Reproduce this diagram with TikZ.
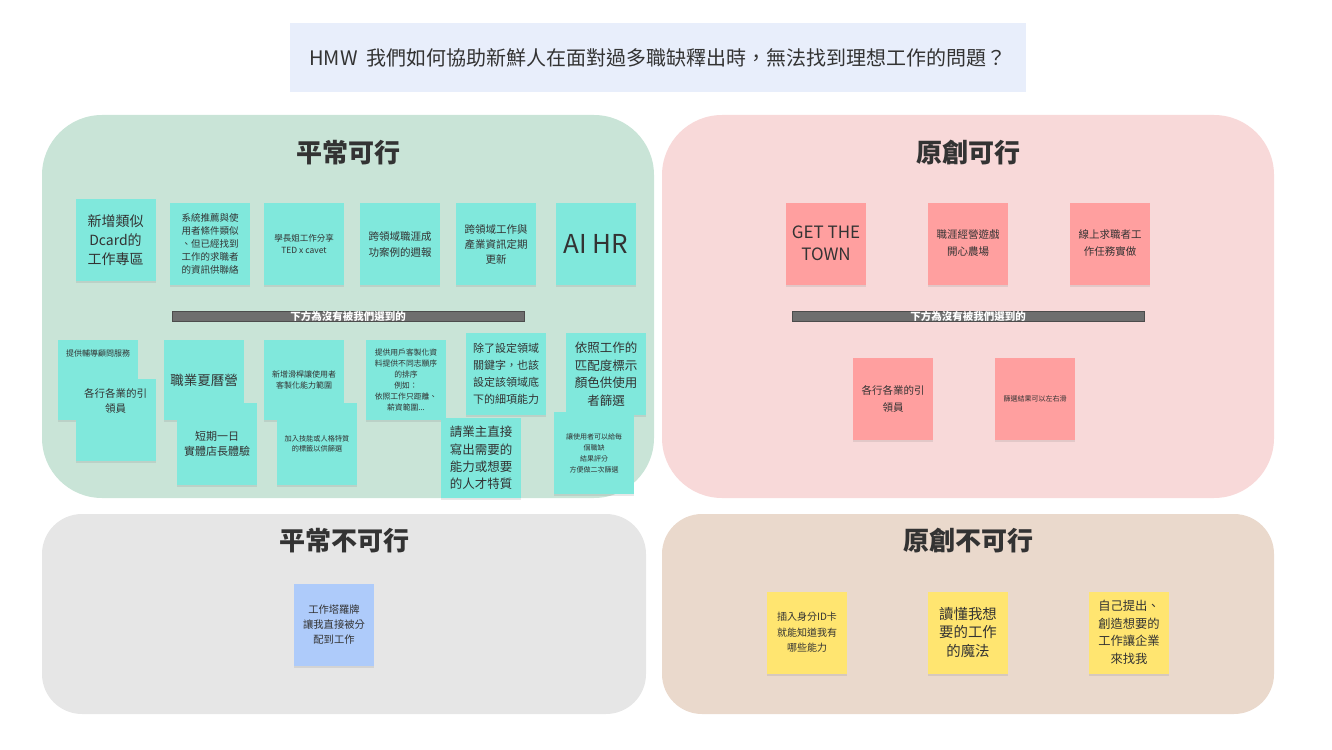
\documentclass[tikz,border=0pt]{standalone}
\usepackage{fontspec}
\setmainfont{Noto Sans CJK TC}
\usepackage{xcolor}
\usetikzlibrary{shadows}
\definecolor{zonegreen}{HTML}{C9E4D7}
\definecolor{zonepink}{HTML}{F8D9D9}
\definecolor{zonegray}{HTML}{E6E6E6}
\definecolor{zonebeige}{HTML}{EAD9CC}
\definecolor{titleblue}{HTML}{E8EEFB}
\definecolor{noteteal}{HTML}{80E8DC}
\definecolor{notepink}{HTML}{FF9F9F}
\definecolor{noteyellow}{HTML}{FFE570}
\definecolor{noteblue}{HTML}{AECBFA}
\definecolor{bargray}{HTML}{6E6E6E}
\definecolor{inkgray}{HTML}{333333}
\newcommand{\pxfont}[2]{\fontsize{#1}{#2}\selectfont}

\begin{document}
\begin{tikzpicture}[
    x=1pt, y=-1pt,
    zone/.style={rounded corners=#1},
    head/.style={font=\pxfont{26}{30}\bfseries, text=inkgray},
    note/.style={minimum width=80pt, minimum height=82pt, inner sep=2pt,
      align=center, text=inkgray,
      drop shadow={shadow xshift=0pt, shadow yshift=-2pt, opacity=0.18}},
    teal/.style={note, fill=noteteal},
    rose/.style={note, fill=notepink},
    lemon/.style={note, fill=noteyellow},
    sky/.style={note, fill=noteblue},
    bar/.style={fill=bargray, draw=black!70, minimum width=352pt,
      minimum height=10pt, inner sep=0pt, text=white,
      font=\pxfont{10.5}{11}\bfseries},
  ]
  \useasboundingbox (0,0) rectangle (1332,749);

  % Title
  \node[fill=titleblue, minimum width=736pt, minimum height=69pt,
    font=\pxfont{20}{23}, text=inkgray] (hmw) at (658,57.5)
    {HMW\ \ 我們如何協助新鮮人在面對過多職缺釋出時，無法找到理想工作的問題？};

  % Quadrants
  \fill[zonegreen, zone=60pt] (42,115) rectangle (654,498);
  \fill[zonepink, zone=60pt] (662,115) rectangle (1274,498);
  \fill[zonegray, zone=40pt] (42,514) rectangle (646,714);
  \fill[zonebeige, zone=40pt] (662,514) rectangle (1274,714);

  \node[head] (hA) at (348,153) {平常可行};
  \node[head] (hB) at (968,153) {原創可行};
  \node[head] (hC) at (344,541) {平常不可行};
  \node[head] (hD) at (968,541) {原創不可行};

  % Top left: chosen
  \node[teal, font=\pxfont{14}{19}] (dcard) at (115.5,240) {新增類似\\Dcard的\\工作專區};
  \node[teal, font=\pxfont{9.5}{13}] (match) at (210,244)
    {系統推薦與使\\用者條件類似\\、但已經找到\\工作的求職者\\的資訊供聯絡};
  \node[teal, font=\pxfont{8.5}{12}] (share) at (304,244) {學長姐工作分享\\TED x cavet};
  \node[teal, font=\pxfont{10.5}{16}] (weekly) at (400,244) {跨領域職涯成\\功案例的週報};
  \node[teal, font=\pxfont{10.5}{15}] (update) at (496,244) {跨領域工作與\\產業資訊定期\\更新};
  \node[teal, font=\pxfont{26}{30}] (aihr) at (596,244) {AI HR};

  \node[bar] (barA) at (348,316) {下方為沒有被我們選到的};

  % Lower left: not chosen
  \node[teal, minimum height=80pt] (coach) at (98,380) {};
  \node[font=\pxfont{8}{10}, text=inkgray, anchor=north] (coachT)
    at ([yshift=-6pt]coach.north) {提供輔導顧問服務};
  \node[teal] (guideA) at (115.5,420) {};
  \node[font=\pxfont{10.5}{15}, text=inkgray, anchor=north, align=center] (guideAT)
    at ([yshift=-6pt]guideA.north) {各行各業的引\\領員};
  \node[teal, minimum height=80pt, font=\pxfont{13.5}{16}] (camp) at (204,380) {職業夏曆營};
  \node[teal, font=\pxfont{11}{15}] (store) at (217,444) {短期一日\\實體店長體驗};
  \node[teal, minimum height=80pt, font=\pxfont{8}{11}] (slider) at (304,380)
    {新增滑桿讓使用者\\客製化能力範圍};
  \node[teal, font=\pxfont{7.2}{10}] (tags) at (317,444) {加入技能或人格特質\\的標籤以供篩選};
  \node[teal, minimum height=80pt, font=\pxfont{7.8}{11}] (order) at (406,380)
    {提供用戶客製化資\\料提供不同志願序\\的排序\\例如：\\依照工作只距離、\\薪資範圍...};
  \node[teal, font=\pxfont{11}{17}] (skill) at (506,374)
    {除了設定領域\\關鍵字，也該\\設定該領域底\\下的細項能力};
  \node[teal, font=\pxfont{12.5}{17.5}] (color) at (606,374)
    {依照工作的\\匹配度標示\\顏色供使用\\者篩選};
  \node[teal, minimum height=80pt, font=\pxfont{12.5}{17.3}] (owner) at (481,458)
    {請業主直接\\寫出需要的\\能力或想要\\的人才特質};
  \node[teal, font=\pxfont{7}{11}] (rate) at (594,453)
    {讓使用者可以給每\\個職缺\\結果評分\\方便做二次篩選};

  % Top right
  \node[rose, font=\pxfont{17}{22}] (town) at (826,243.5) {GET THE\\TOWN};
  \node[rose, font=\pxfont{10.5}{17}] (farm) at (968,243.5) {職涯經營遊戲\\開心農場};
  \node[rose, font=\pxfont{10.5}{17}] (task) at (1110,243.5) {線上求職者工\\作任務實做};

  \node[bar] (barB) at (968,316) {下方為沒有被我們選到的};

  \node[rose, font=\pxfont{10.5}{17}] (guideB) at (893,398.5) {各行各業的引\\領員};
  \node[rose, font=\pxfont{7}{9}] (swipe) at (1035,398.5) {篩選結果可以左右滑};

  % Bottom
  \node[sky, font=\pxfont{10.3}{15}] (tarot) at (334,625) {工作塔羅牌\\讓我直接被分\\配到工作};
  \node[lemon, font=\pxfont{10}{15.5}] (idcard) at (807,632.5) {插入身分ID卡\\就能知道我有\\哪些能力};
  \node[lemon, font=\pxfont{14.4}{18.7}] (magic) at (968,632.5) {讀懂我想\\要的工作\\的魔法};
  \node[lemon, font=\pxfont{12.3}{17.5}] (pitch) at (1129,632.5)
    {自己提出、\\創造想要的\\工作讓企業\\來找我};

\end{tikzpicture}
\end{document}
